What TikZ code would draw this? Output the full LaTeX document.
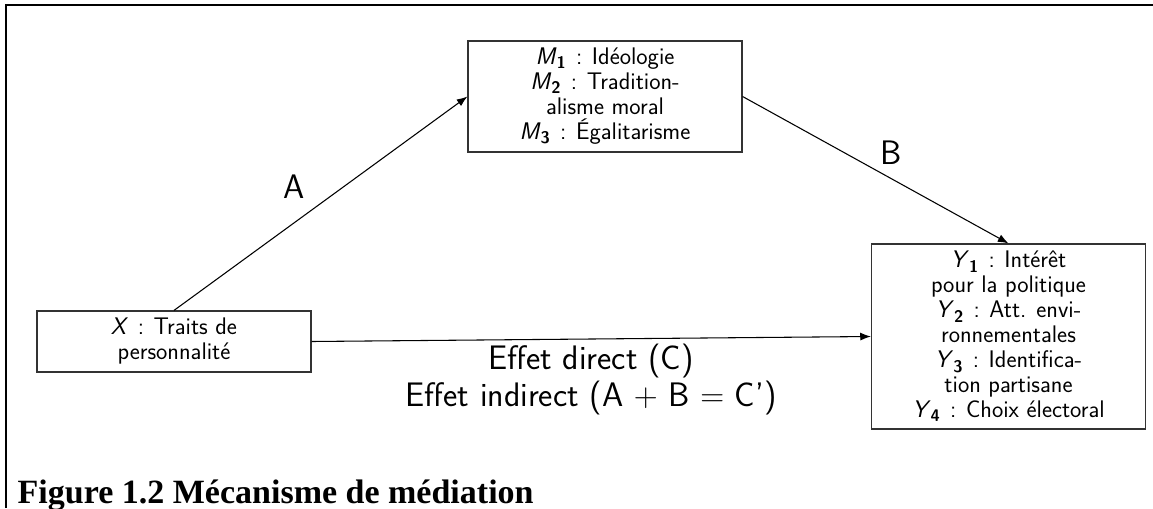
\documentclass[tikz,border=0pt]{standalone}
\usepackage{fontspec}
\newfontfamily\capfont{Liberation Serif}
\usetikzlibrary{arrows.meta}
\newcommand{\vsub}[2]{\textit{#1}\textsubscript{\textbf{#2}}}
\newcommand{\vsep}{\hspace{0.4em}:\hspace{0.4em}}
\begin{document}
\begin{tikzpicture}[x=0.75pt,y=-0.75pt,
	box/.style={draw=black!80,line width=0.9pt,minimum width=205.5pt,inner sep=0pt,align=center,font=\sffamily\fontsize{18}{18.75}\selectfont},
	link/.style={-{Latex[length=8pt,width=6pt]},line width=0.8pt},
	lbl/.style={font=\sffamily\fontsize{25.5}{27.5}\selectfont,align=center}]
	\useasboundingbox (0,0) rectangle (1153,508);
	\draw[line width=1.5pt] (6,508) -- (6,5) -- (1153,5);
	\node[box,minimum height=83.25pt] (med) at (605,96.5) {\vsub{M}{1}\vsep Idéologie\\\vsub{M}{2}\vsep Tradition-\\alisme moral\\\vsub{M}{3}\vsep Égalitarisme};
	\node[box,minimum height=45.75pt] (trait) at (174,341.5) {\textit{X}\vsep Traits de\\personnalité};
	\node[box,minimum height=138.75pt] (vote) at (1008.5,336.5) {\vsub{Y}{1}\vsep Intérêt\\pour la politique\\\vsub{Y}{2}\vsep Att. envi-\\ronnementales\\\vsub{Y}{3}\vsep Identifica-\\tion partisane\\\vsub{Y}{4}\vsep Choix électoral};
	\draw[link] (trait.north) -- node[lbl,above left,xshift=-8pt] {A} (med.west);
	\draw[link] (med.east) -- node[lbl,above right] {B} (vote.north);
	\draw[link] (trait.east) -- node[lbl,below] {Effet direct (C)\\Effet indirect (A $+$ B $=$ C')} (vote.west);
	\node[anchor=base west,font=\capfont\bfseries\fontsize{25.5}{28}\selectfont] (cap) at (13,503) {Figure 1.2 Mécanisme de médiation};
\end{tikzpicture}
\end{document}
